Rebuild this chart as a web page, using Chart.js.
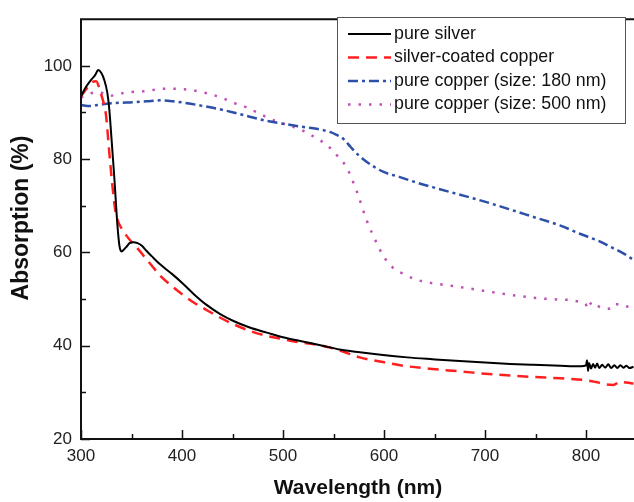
<!DOCTYPE html>
<html>
<head>
<meta charset="utf-8">
<script src="https://cdn.jsdelivr.net/npm/chart.js@4/dist/chart.umd.min.js"></script>
<style>
  html, body { margin: 0; padding: 0; background: #fff; }
  #wrap { width: 634px; height: 502px; }
</style>
</head>
<body>
<div id="wrap"><canvas id="chart" width="634" height="502"></canvas></div>
<script>
// axis ticks
const xTicks = [300, 400, 500, 600, 700, 800];
const xMinor = [350, 450, 550, 650, 750];
const yTicks = [20, 40, 60, 80, 100];
const yMinor = [30, 50, 70, 90];

const seriesNames = ['pure silver', 'silver-coated copper', 'pure copper (size: 180 nm)', 'pure copper (size: 500 nm)'];

// pure silver
const silverX = [300, 305, 310, 314, 317, 320, 323, 326, 328, 330, 333, 336, 338, 340, 342, 345, 348, 352, 356, 360, 365, 370, 378, 390, 401, 412, 424, 437, 451, 467, 484, 500, 517, 537, 556, 576, 599, 623, 648, 675, 700, 725, 748, 775, 795, 800, 801, 802, 803, 805, 807, 809, 811, 813, 816, 819, 822, 825, 828, 831, 834, 837, 840, 843, 847];
const silverY = [93.5, 95.5, 97, 98, 99.1, 98.5, 97, 94.3, 90.7, 85, 76, 66, 61.5, 60.2, 60.5, 61.2, 62, 62.2, 62, 61.5, 60.3, 59.2, 57.5, 55.4, 53.3, 51, 48.8, 46.9, 45.3, 43.9, 42.8, 41.8, 41, 40.1, 39.2, 38.6, 38.0, 37.5, 37.1, 36.7, 36.4, 36.1, 35.9, 35.7, 35.6, 35.8, 36.9, 34.6, 36.3, 35.1, 36.1, 35.3, 36.2, 35.2, 35.9, 35.3, 36.0, 35.2, 35.8, 35.2, 35.8, 35.3, 35.7, 35.2, 35.5];

// silver-coated copper
const coatedX = [300, 305, 310, 315, 318.5, 320, 323, 325, 327, 329, 331, 334, 337, 340, 345, 351, 357, 363, 370, 378, 390, 401, 412, 424, 437, 451, 467, 484, 500, 517, 537, 556, 576, 599, 616, 648, 675, 700, 725, 748, 775, 800, 810, 820, 827, 834, 840, 847];
const coatedY = [93.5, 95, 96.4, 96.7, 95, 93.9, 91.5, 89, 84, 79, 74.5, 69, 66.5, 65.2, 63.6, 62, 60.6, 59, 57.2, 55.1, 52.8, 50.9, 49.2, 47.7, 46.1, 44.6, 43.2, 42.1, 41.4, 40.7, 40.1, 39.0, 37.5, 36.5, 35.8, 35.0, 34.5, 34.0, 33.6, 33.3, 33.0, 32.6, 32.2, 31.7, 31.6, 32.3, 32.1, 31.9];

// pure copper 180 nm
const cu180X = [300, 309, 316, 323, 330, 340, 351, 365, 378, 391, 405, 418, 435, 451, 467, 484, 500, 517, 530, 540, 547, 553, 560, 567, 575, 583, 599, 615, 632, 648, 673, 698, 722, 748, 774, 794, 814, 824, 837, 847];
const cu180Y = [91.6, 91.4, 91.6, 91.8, 92.0, 92.1, 92.2, 92.4, 92.6, 92.4, 92.0, 91.5, 90.8, 90.0, 89.1, 88.2, 87.6, 87.0, 86.6, 86.2, 85.8, 85.2, 84.3, 82.6, 80.8, 79.4, 77.3, 76.2, 75.0, 74.0, 72.5, 71.0, 69.4, 67.6, 65.8, 64.0, 62.3, 61.2, 59.8, 58.4];

// pure copper 500 nm
const cu500X = [300, 307, 317, 329, 340, 350, 365, 381, 401, 425, 440, 451, 465, 477, 490, 500, 517, 524, 534, 544, 553, 563, 573, 583, 593, 600, 609, 620, 633, 648, 665, 698, 722, 748, 772, 784, 794, 800, 801, 804, 807, 814, 820, 825, 829, 834, 840, 845, 847];
const cu500Y = [93.2, 93.9, 94.4, 93.6, 94.1, 94.4, 94.6, 95.1, 95.0, 94.1, 93.1, 92.1, 91.0, 89.7, 88.4, 87.6, 86.4, 85.6, 84.4, 82.9, 80.9, 78.2, 73.1, 66.8, 61.9, 59.0, 56.7, 55.3, 54.1, 53.4, 52.9, 51.8, 51.0, 50.3, 49.9, 49.8, 49.4, 48.8, 47.9, 48.9, 49.4, 48.2, 48.0, 47.9, 48.9, 48.9, 48.4, 48.6, 48.7];

function pairs(xs, ys) {
    return xs.map((x, i) => ({ x: x, y: ys[i] }));
}

const styles = [
    { color: '#000000', width: 2, dash: [] },
    { color: '#ff1f1f', width: 2.5, dash: [11, 7] },
    { color: '#2c4fa8', width: 2.5, dash: [10, 4, 3, 4] },
    { color: '#c050b4', width: 2.5, dash: [2.5, 8] }
];

const datasets = [
    pairs(silverX, silverY),
    pairs(coatedX, coatedY),
    pairs(cu180X, cu180Y),
    pairs(cu500X, cu500Y)
].map((data, i) => ({
    label: seriesNames[i],
    data: data,
    borderColor: styles[i].color,
    borderWidth: styles[i].width,
    borderDash: styles[i].dash,
    pointRadius: 0,
    fill: false,
    cubicInterpolationMode: 'monotone'
}));

// frame, inward ticks, axis titles and legend
const decorations = {
    id: 'decorations',
    afterDraw(chart) {
        const ctx = chart.ctx;
        const area = chart.chartArea;
        const xs = chart.scales.x;
        const ys = chart.scales.y;
        ctx.save();
        ctx.strokeStyle = '#111';
        ctx.lineWidth = 2;
        ctx.setLineDash([]);
        ctx.beginPath();
        ctx.moveTo(chart.width, area.top);
        ctx.lineTo(area.left, area.top);
        ctx.lineTo(area.left, area.bottom);
        ctx.lineTo(chart.width, area.bottom);
        ctx.stroke();

        ctx.lineWidth = 1.5;
        ctx.beginPath();
        xTicks.concat(xMinor).forEach(v => {
            const len = xTicks.includes(v) ? 9 : 5;
            const px = Math.round(xs.getPixelForValue(v)) + 0.5;
            ctx.moveTo(px, area.bottom);
            ctx.lineTo(px, area.bottom - len);
        });
        yTicks.concat(yMinor).forEach(v => {
            const len = yTicks.includes(v) ? 9 : 5;
            const py = Math.round(ys.getPixelForValue(v)) + 0.5;
            ctx.moveTo(area.left, py);
            ctx.lineTo(area.left + len, py);
        });
        ctx.stroke();

        // axis titles
        ctx.fillStyle = '#111';
        ctx.font = 'bold 21px "Liberation Sans", Arial, sans-serif';
        ctx.textAlign = 'center';
        ctx.textBaseline = 'middle';
        ctx.fillText('Wavelength (nm)', 358, 488);
        ctx.save();
        ctx.translate(22, 218);
        ctx.rotate(-Math.PI / 2);
        ctx.font = 'bold 23px "Liberation Sans", Arial, sans-serif';
        ctx.fillText('Absorption (%)', 0, 0);
        ctx.restore();

        // legend box
        const bx = 337, by = 17, bw = 288, bh = 106;
        ctx.fillStyle = '#fff';
        ctx.fillRect(bx, by, bw, bh);
        ctx.strokeStyle = '#555';
        ctx.lineWidth = 1;
        ctx.strokeRect(bx + 0.5, by + 0.5, bw, bh);
        ctx.font = '17.8px "Liberation Sans", Arial, sans-serif';
        ctx.textAlign = 'left';
        chart.data.datasets.forEach((ds, i) => {
            const cy = 34 + i * 23.5;
            ctx.strokeStyle = ds.borderColor;
            ctx.lineWidth = ds.borderWidth;
            ctx.setLineDash(ds.borderDash);
            ctx.beginPath();
            ctx.moveTo(348, cy);
            ctx.lineTo(391, cy);
            ctx.stroke();
            ctx.setLineDash([]);
            ctx.fillStyle = '#111';
            ctx.fillText(ds.label, 394, cy);
        });
        ctx.restore();
    }
};

const tickFont = { family: '"Liberation Sans", Arial, sans-serif', size: 17 };

new Chart(document.getElementById('chart').getContext('2d'), {
    type: 'line',
    data: { datasets: datasets },
    options: {
        responsive: false,
        animation: false,
        layout: { padding: { top: 12, right: 0, left: 0, bottom: 0 } },
        plugins: {
            legend: { display: false },
            tooltip: { enabled: false }
        },
        scales: {
            x: {
                type: 'linear',
                min: 300,
                max: 847.5,
                grid: { display: false, drawTicks: false },
                border: { display: false },
                ticks: { font: tickFont, color: '#222', padding: 7, maxRotation: 0, autoSkip: false },
                afterBuildTicks: s => { s.ticks = xTicks.map(v => ({ value: v })); },
                afterFit: s => { s.height = 63; }
            },
            y: {
                type: 'linear',
                min: 20,
                max: 110,
                grid: { display: false, drawTicks: false },
                border: { display: false },
                ticks: { font: tickFont, color: '#222', padding: 9, autoSkip: false },
                afterBuildTicks: s => { s.ticks = yTicks.map(v => ({ value: v })); },
                afterFit: s => { s.width = 81; }
            }
        }
    },
    plugins: [decorations]
});
</script>
</body>
</html>
